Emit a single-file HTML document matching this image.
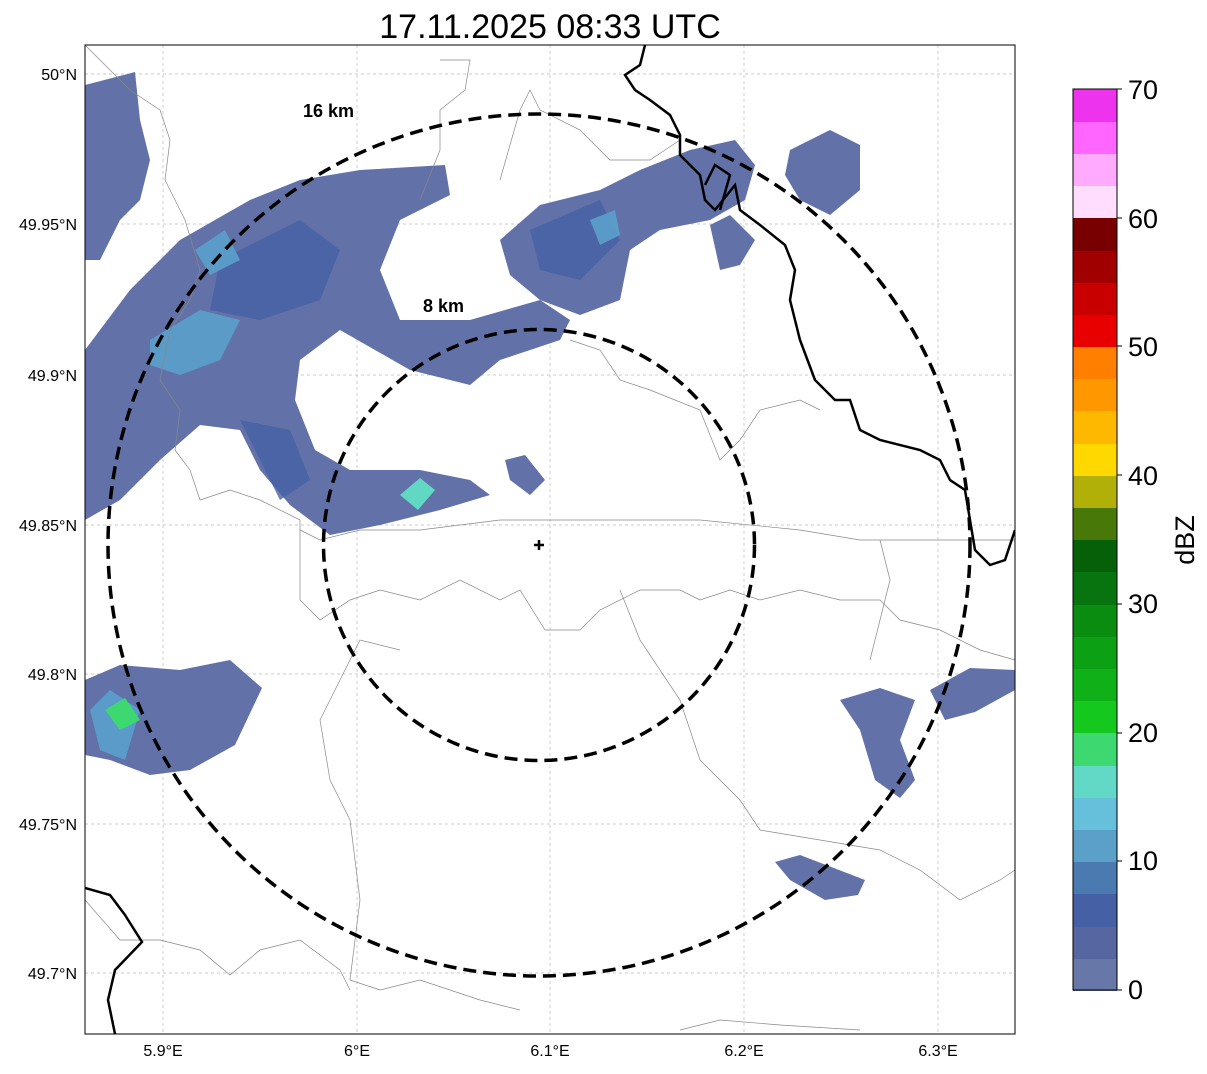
<!DOCTYPE html>
<html><head><meta charset="utf-8"><style>
body{margin:0;background:#fff;width:1207px;height:1069px;overflow:hidden;font-family:"Liberation Sans","DejaVu Sans",sans-serif}
</style></head><body>
<svg width="1207" height="1069" xmlns="http://www.w3.org/2000/svg" font-family="Liberation Sans, DejaVu Sans, sans-serif">
<rect width="1207" height="1069" fill="#fff"/>
<text x="550" y="38" font-size="34" text-anchor="middle">17.11.2025 08:33 UTC</text>
<defs><clipPath id="c"><rect x="85" y="45" width="930" height="989"/></clipPath></defs>
<g clip-path="url(#c)">
<g stroke="#bbb" stroke-width="0.7" stroke-dasharray="3,3">
<line x1="163" y1="45" x2="163" y2="1034"/><line x1="357" y1="45" x2="357" y2="1034"/><line x1="550" y1="45" x2="550" y2="1034"/><line x1="744" y1="45" x2="744" y2="1034"/><line x1="938" y1="45" x2="938" y2="1034"/>
<line x1="85" y1="74" x2="1015" y2="74"/><line x1="85" y1="224" x2="1015" y2="224"/><line x1="85" y1="375" x2="1015" y2="375"/><line x1="85" y1="525" x2="1015" y2="525"/><line x1="85" y1="674" x2="1015" y2="674"/><line x1="85" y1="824" x2="1015" y2="824"/><line x1="85" y1="973" x2="1015" y2="973"/>
</g>
<g fill="#6272a8">
<polygon points="85,85 135,72 140,120 150,160 140,200 120,220 100,260 85,260"/>
<polygon points="85,350 130,290 180,240 250,200 300,180 360,170 445,165 450,195 400,220 380,270 400,320 470,320 540,300 570,320 560,340 500,360 470,385 410,370 340,330 300,360 295,400 315,450 350,470 420,470 470,480 490,495 440,510 380,525 330,535 290,505 260,470 240,430 200,425 160,460 120,500 85,520"/>
<polygon points="500,240 540,205 600,190 640,170 690,150 735,140 755,165 745,200 710,220 660,230 630,250 620,300 580,315 540,300 510,275"/>
<polygon points="790,150 830,130 860,145 860,190 830,215 800,200 785,175"/>
<polygon points="710,225 730,215 755,240 740,265 720,270"/>
<polygon points="85,680 120,665 180,670 230,660 262,688 235,745 190,770 150,775 110,760 85,755"/>
<polygon points="840,700 880,688 915,700 900,740 915,780 900,798 875,780 860,730"/>
<polygon points="930,690 970,668 1015,670 1015,690 975,712 945,720"/>
<polygon points="775,862 800,855 865,880 858,895 825,900 790,880"/>
<polygon points="505,460 525,455 545,480 530,495 510,480"/>
</g>
<g fill="#4660a5" opacity="0.8">
<polygon points="220,260 300,220 340,250 320,300 260,320 210,310"/>
<polygon points="530,230 600,200 620,240 580,280 540,270"/>
<polygon points="240,420 290,430 310,480 280,500"/>
</g>
<g fill="#5ba0cc" opacity="0.9">
<polygon points="150,340 200,310 240,320 220,360 180,375 150,365"/>
<polygon points="195,250 225,230 240,260 210,275"/>
<polygon points="90,710 110,690 140,710 125,760 100,750"/>
<polygon points="590,220 615,210 620,235 600,245"/>
</g>
<polygon points="400,495 420,478 435,490 418,510" fill="#60d8c4"/>
<polygon points="105,710 125,698 140,720 120,730" fill="#3ed870"/>
<g fill="none" stroke="#888" stroke-width="0.7">
<polyline points="85,45 110,70 130,90 160,110 170,140 165,180 185,220 200,270 190,300 170,330 160,380 180,410 175,450 190,470 200,500 230,490 260,500 300,520 300,600 320,620 350,600 380,590 420,600 460,580 500,600 520,590 545,630 580,630 600,610 640,590 680,590 700,600 730,590 760,600 800,590 840,600 880,600 900,620 940,630 980,650 1015,660"/>
<polyline points="300,530 320,540 360,530 420,530 500,520 560,520 620,520 700,520 800,530 860,540 900,540 960,540 1015,540"/>
<polyline points="500,180 520,110 530,90 540,110 580,130 610,160 650,160 680,140"/>
<polyline points="440,60 470,60 465,90 440,110 440,150 420,200"/>
<polyline points="570,340 600,350 620,380 650,390 700,410 720,460 740,440 760,410 800,400 820,410"/>
<polyline points="400,650 360,640 340,680 320,720 330,780 350,820 360,900 350,980 380,990 420,980 480,1000 520,1010"/>
<polyline points="85,900 120,940 160,940 200,950 230,975 260,950 300,940 340,970 350,990"/>
<polyline points="620,590 640,640 680,700 700,760 740,800 760,830 820,840 880,850 920,870 960,900 1000,880 1015,870"/>
<polyline points="680,1030 720,1020 780,1025 860,1030"/>
<polyline points="880,540 890,580 880,620 870,660"/>
</g>
<g fill="none" stroke="#000" stroke-width="2.5">
<polyline points="645,45 640,65 625,75 635,90 650,100 670,115 680,135 680,155 700,175 705,200 715,210 735,185 740,210 760,225 785,245 795,270 790,300 800,340 815,380 835,400 850,400 860,430 880,440 920,450 940,460 950,480 965,490 970,520 975,550 990,565 1005,560 1015,530"/>
<polyline points="85,888 110,895 125,915 142,942 115,970 108,1000 115,1034"/>
<polyline points="705,185 715,165 730,175 720,210"/>
</g>
</g>
<g fill="none" stroke="#000" stroke-width="3.5" stroke-dasharray="13,7">
<circle cx="539" cy="545" r="431"/>
<circle cx="539" cy="545" r="215.5"/>
</g>
<path d="M539 540v10M534 545h10" stroke="#000" stroke-width="2.5"/>
<text x="303" y="117" font-size="18" font-weight="bold">16 km</text>
<text x="423" y="312" font-size="18" font-weight="bold">8 km</text>
<rect x="85" y="45" width="930" height="989" fill="none" stroke="#000" stroke-width="1"/>
<g font-size="16" text-anchor="end">
<text x="77" y="80">50°N</text><text x="77" y="230">49.95°N</text><text x="77" y="381">49.9°N</text><text x="77" y="531">49.85°N</text><text x="77" y="680">49.8°N</text><text x="77" y="830">49.75°N</text><text x="77" y="979">49.7°N</text>
</g>
<g font-size="16" text-anchor="middle">
<text x="163" y="1056">5.9°E</text><text x="357" y="1056">6°E</text><text x="550" y="1056">6.1°E</text><text x="744" y="1056">6.2°E</text><text x="938" y="1056">6.3°E</text>
</g>
<g>
<rect x="1073" y="958" width="44" height="33" fill="#6677a8"/>
<rect x="1073" y="926" width="44" height="33" fill="#5566a0"/>
<rect x="1073" y="894" width="44" height="33" fill="#4660a5"/>
<rect x="1073" y="861" width="44" height="33" fill="#4a7ab0"/>
<rect x="1073" y="829" width="44" height="33" fill="#5aa0c8"/>
<rect x="1073" y="797" width="44" height="33" fill="#66c0dc"/>
<rect x="1073" y="765" width="44" height="33" fill="#62d8c6"/>
<rect x="1073" y="733" width="44" height="33" fill="#3ed870"/>
<rect x="1073" y="700" width="44" height="33" fill="#14c81e"/>
<rect x="1073" y="668" width="44" height="33" fill="#10b018"/>
<rect x="1073" y="636" width="44" height="33" fill="#0ca014"/>
<rect x="1073" y="604" width="44" height="33" fill="#0a8c10"/>
<rect x="1073" y="572" width="44" height="33" fill="#087410"/>
<rect x="1073" y="539" width="44" height="33" fill="#066008"/>
<rect x="1073" y="507" width="44" height="33" fill="#487808"/>
<rect x="1073" y="475" width="44" height="33" fill="#b0b008"/>
<rect x="1073" y="443" width="44" height="33" fill="#ffd800"/>
<rect x="1073" y="411" width="44" height="33" fill="#ffb800"/>
<rect x="1073" y="378" width="44" height="33" fill="#ff9800"/>
<rect x="1073" y="346" width="44" height="33" fill="#ff8000"/>
<rect x="1073" y="314" width="44" height="33" fill="#e80000"/>
<rect x="1073" y="282" width="44" height="33" fill="#c80000"/>
<rect x="1073" y="250" width="44" height="33" fill="#a00000"/>
<rect x="1073" y="218" width="44" height="33" fill="#780000"/>
<rect x="1073" y="185" width="44" height="33" fill="#ffddff"/>
<rect x="1073" y="153" width="44" height="33" fill="#ffaaff"/>
<rect x="1073" y="121" width="44" height="33" fill="#ff66ff"/>
<rect x="1073" y="89" width="44" height="33" fill="#ee33ee"/>
<rect x="1073" y="89" width="44" height="901" fill="none" stroke="#000" stroke-width="1"/>
</g>
<g font-size="27">
<text x="1128" y="999">0</text><text x="1128" y="870">10</text><text x="1128" y="742">20</text><text x="1128" y="613">30</text><text x="1128" y="485">40</text><text x="1128" y="356">50</text><text x="1128" y="228">60</text><text x="1128" y="99">70</text>
</g>
<g stroke="#000"><line x1="1117" y1="990" x2="1122" y2="990"/><line x1="1117" y1="861" x2="1122" y2="861"/><line x1="1117" y1="733" x2="1122" y2="733"/><line x1="1117" y1="604" x2="1122" y2="604"/><line x1="1117" y1="475" x2="1122" y2="475"/><line x1="1117" y1="346" x2="1122" y2="346"/><line x1="1117" y1="218" x2="1122" y2="218"/><line x1="1117" y1="89" x2="1122" y2="89"/></g>
<text x="1194" y="540" font-size="27" text-anchor="middle" transform="rotate(-90 1194 540)">dBZ</text>
</svg>
</body></html>
